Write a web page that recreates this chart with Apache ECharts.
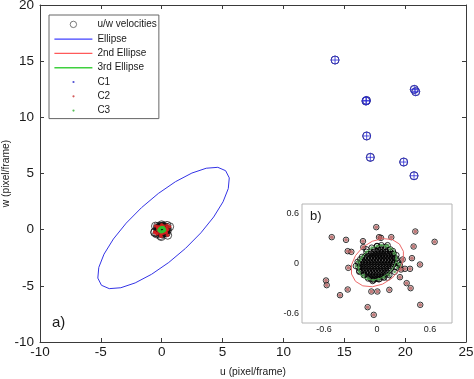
<!DOCTYPE html>
<html>
<head>
<meta charset="utf-8">
<script src="https://cdn.jsdelivr.net/npm/echarts@6/dist/echarts.min.js"></script>
<style>html,body{margin:0;padding:0;background:#fff}#c{width:474px;height:379px}</style>
</head>
<body>
<div id="c"></div>
<script>
// ---------- data ----------
const xTicks = [-10, -5, 0, 5, 10, 15, 20, 25];
const yTicks = [-10, -5, 0, 5, 10, 15, 20];
const insetTicks = [-0.6, 0, 0.6];

// C1: far velocities (u, w)
const c1Points = [[14.24,15.10],[16.78,11.45],[16.82,11.50],[20.75,12.49],[20.87,12.28],[16.84,8.34],[17.14,6.44],[19.88,6.02],[20.73,4.80]];

// C2 points (u, w)
const c2Points = [[-0.513,0.316],[-0.351,0.284],[-0.008,0.436],[0.023,0.316],[0.045,0.308],[0.162,0.316],[0.434,0.384],[0.653,0.26],
  [-0.159,0.268],[-0.155,0.196],[-0.332,0.148],[-0.291,0.14],[0.415,0.204],[0.396,0.064],[0.487,-0.012],[-0.325,-0.052],
  [0.272,-0.072],[0.317,-0.064],[0.374,-0.064],[0.26,-0.164],[-0.578,-0.204],[-0.57,-0.26],[-0.332,-0.312],[-0.419,-0.38],
  [-0.064,-0.336],[0.004,-0.336],[0.14,-0.316],[0.336,-0.236],[0.381,-0.296],[0.49,-0.496],[-0.106,-0.524],[-0.037,-0.616],[0.291,0.048]];

// C3 points (u, w)
const c3Points = [[-0.22,0.02],[-0.21,-0.05],[-0.20,-0.10],[-0.17,0.08],[-0.12,0.14],[-0.06,0.19],[0.00,0.21],[0.05,0.22],
  [0.10,0.20],[0.15,0.17],[0.19,0.12],[0.22,0.06],[0.24,0.00],[0.23,-0.05],[0.20,-0.10],[0.14,-0.14],[0.08,-0.17],
  [0.02,-0.19],[-0.04,-0.20],[-0.10,-0.18],[-0.15,-0.14],[-0.19,0.05],[0.26,-0.02],[-0.24,-0.03],[0.12,0.22]];

// remaining velocities of the dense core, by row: [w, [u...]]
const coreRows = [
  [0.19,[0.03,0.07]],
  [0.165,[-0.03,0.01,0.05,0.09,0.13]],
  [0.14,[-0.07,-0.035,0.0,0.035,0.07,0.105,0.15]],
  [0.115,[-0.10,-0.065,-0.03,0.005,0.04,0.075,0.11,0.145,0.175]],
  [0.09,[-0.13,-0.095,-0.06,-0.025,0.01,0.045,0.08,0.115,0.15,0.185]],
  [0.065,[-0.15,-0.115,-0.08,-0.045,-0.01,0.025,0.06,0.095,0.13,0.165,0.2]],
  [0.04,[-0.165,-0.13,-0.095,-0.06,-0.025,0.01,0.045,0.08,0.115,0.15,0.185]],
  [0.015,[-0.18,-0.145,-0.11,-0.075,-0.04,-0.005,0.03,0.065,0.1,0.135,0.17,0.2]],
  [-0.01,[-0.185,-0.15,-0.115,-0.08,-0.045,-0.01,0.025,0.06,0.095,0.13,0.165,0.19]],
  [-0.035,[-0.19,-0.155,-0.12,-0.085,-0.05,-0.015,0.02,0.055,0.09,0.125,0.16]],
  [-0.06,[-0.185,-0.15,-0.115,-0.08,-0.045,-0.01,0.025,0.06,0.095,0.13,0.16]],
  [-0.085,[-0.175,-0.14,-0.105,-0.07,-0.035,0.0,0.035,0.07,0.105,0.14]],
  [-0.11,[-0.16,-0.125,-0.09,-0.055,-0.02,0.015,0.05,0.085,0.115]],
  [-0.135,[-0.14,-0.105,-0.07,-0.035,0.0,0.035,0.07,0.1]],
  [-0.16,[-0.11,-0.075,-0.04,-0.005,0.03,0.065]],
  [-0.185,[-0.07,-0.035,0.0,0.03]]
];
const coreExtra = [[0.22,0.10],[-0.21,0.0],[0.21,-0.04],[-0.12,0.17],[0.12,-0.17],[-0.2,-0.09],[0.18,0.15],[0.0,0.21],[-0.05,-0.21],[0.23,0.03]];

// ellipse outlines (u, w)
const ellipse1 = [[5.25,5.25],[4.61,5.55],[3.66,5.47],[2.48,5.04],[1.13,4.27],[-0.28,3.22],[-1.66,1.96],[-2.92,0.58],
  [-3.97,-0.83],[-4.74,-2.18],[-5.17,-3.36],[-5.25,-4.31],[-4.95,-4.95],[-4.31,-5.25],[-3.36,-5.17],[-2.18,-4.74],
  [-0.83,-3.97],[0.58,-2.92],[1.96,-1.66],[3.22,-0.28],[4.27,1.13],[5.04,2.48],[5.47,3.66],[5.55,4.61]];
const ellipse2 = [[0.254,0.234],[0.171,0.288],[0.063,0.299],[-0.054,0.267],[-0.162,0.195],[-0.244,0.095],[-0.289,-0.017],[-0.289,-0.126],
  [-0.244,-0.214],[-0.161,-0.268],[-0.053,-0.279],[0.064,-0.247],[0.172,-0.175],[0.254,-0.075],[0.299,0.037],[0.299,0.146]];
const ellipse3 = [[0.184,0.171],[0.125,0.210],[0.047,0.218],[-0.037,0.195],[-0.115,0.143],[-0.174,0.071],[-0.207,-0.009],[-0.207,-0.088],
  [-0.174,-0.151],[-0.115,-0.190],[-0.037,-0.198],[0.047,-0.175],[0.125,-0.123],[0.184,-0.051],[0.217,0.029],[0.217,0.108]];

// ---------- build ----------
const corePoints = [];
coreRows.forEach(r => r[1].forEach(u => corePoints.push([u, r[0]])));
coreExtra.forEach(p => corePoints.push(p));
const allUW = corePoints.concat(c3Points, c2Points, c1Points);
const close = a => a.concat([a[0]]);

const FONT = 'Liberation Sans, Arial, sans-serif';
const AX = '#3a3a3a';
const TXT = '#1a1a1a';
const BLUE = '#3434e6', RED = '#ee4848', GREEN = '#36c336';
const DOT = 'path://M0 0M38 10M18 5A1.1 1.1 0 1 1 20.2 5A1.1 1.1 0 1 1 18 5Z';
const RING = 'path://M0 0M38 10M15.8 5A3.2 3.2 0 1 1 22.2 5A3.2 3.2 0 1 1 15.8 5Z';
const LINE = 'path://M0 0M38 10M0 4.3H38V5.7H0Z';
const CPLUS = 'path://M0 5A5 5 0 1 1 10 5A5 5 0 1 1 0 5ZM5 0L5 10M0 5L10 5';
const lineItem = (name, c) => ({ name: name, icon: LINE,
  itemStyle: { color: c, borderColor: c, borderWidth: 0, opacity: 1 },
  lineStyle: { color: c, width: 1, opacity: 1 } });

function mainX(pos, show) {
  return { gridIndex: 0, type: 'value', min: -10, max: 25, interval: 5, position: pos,
    axisLine: { show: true, onZero: false, lineStyle: { color: AX, width: 1 } },
    axisTick: { show: true, inside: true, length: 4, lineStyle: { color: AX } },
    axisLabel: { show: show, fontSize: 13.5, color: TXT, margin: 3, fontFamily: FONT },
    splitLine: { show: false } };
}
function mainY(pos, show) {
  return { gridIndex: 0, type: 'value', min: -10, max: 20, interval: 5, position: pos,
    axisLine: { show: true, onZero: false, lineStyle: { color: AX, width: 1 } },
    axisTick: { show: true, inside: true, length: 4, lineStyle: { color: AX } },
    axisLabel: { show: show, fontSize: 13.5, color: TXT, margin: 6, fontFamily: FONT },
    splitLine: { show: false } };
}
const xa0 = mainX('bottom', true);
xa0.name = 'u (pixel/frame)'; xa0.nameLocation = 'middle'; xa0.nameGap = 25; xa0.nameMoveOverlap = false;
xa0.nameTextStyle = { fontSize: 10.3, color: TXT, fontFamily: FONT };
const ya0 = mainY('left', true);
ya0.name = 'w (pixel/frame)'; ya0.nameLocation = 'middle'; ya0.nameGap = 29; ya0.nameMoveOverlap = false;
ya0.nameTextStyle = { fontSize: 10.3, color: TXT, fontFamily: FONT };

const insetAxis = (isX) => ({ gridIndex: 1, type: 'value', min: isX ? -0.85 : -0.714, max: isX ? 0.85 : 0.714,
  position: isX ? 'bottom' : 'left',
  axisLine: { show: false },
  axisTick: { show: true, inside: true, length: 2, customValues: insetTicks, lineStyle: { color: '#aaa' } },
  axisLabel: { show: true, customValues: insetTicks, fontSize: 9, color: TXT, margin: isX ? 2 : 3, fontFamily: FONT },
  splitLine: { show: false } });

const chart = echarts.init(document.getElementById('c'), null, { renderer: 'canvas' });
chart.setOption({
  animation: false,
  backgroundColor: '#fff',
  textStyle: { fontFamily: FONT },
  grid: [
    { left: 40, right: 8, top: 5, bottom: 37, show: false, containLabel: false, outerBoundsMode: 'none' },
    { left: 302, top: 204, width: 150, height: 119, show: true, backgroundColor: '#fff', borderColor: '#b4b4b4', borderWidth: 1, z: 5,
      containLabel: false, outerBoundsMode: 'none' }
  ],
  xAxis: [xa0, mainX('top', false), insetAxis(true)],
  yAxis: [ya0, mainY('right', false), insetAxis(false)],
  legend: {
    orient: 'vertical', left: 49, top: 15, selectedMode: false,
    itemWidth: 38, itemHeight: 10, itemGap: 4.3,
    padding: [4, 2, 3, 5],
    backgroundColor: '#fff', borderColor: '#666', borderWidth: 1,
    textStyle: { fontSize: 10, color: TXT, fontFamily: FONT },
    data: [
      { name: 'u/w velocities', icon: RING, itemStyle: { color: 'transparent', borderColor: '#333', borderWidth: 0.8 } },
      lineItem('Ellipse', '#4040ff'),
      lineItem('2nd Ellipse', '#ff5a5a'),
      lineItem('3rd Ellipse', '#3fd03f'),
      { name: 'C1', icon: DOT, itemStyle: { color: '#2222c8', borderWidth: 0 } },
      { name: 'C2', icon: DOT, itemStyle: { color: '#c83030', borderWidth: 0 } },
      { name: 'C3', icon: DOT, itemStyle: { color: '#30b030', borderWidth: 0 } }
    ]
  },
  graphic: [
    { type: 'text', left: 52, top: 315, z: 10, style: { text: 'a)', fontSize: 15, fill: TXT, fontFamily: FONT } },
    { type: 'text', left: 310, top: 210, z: 10, style: { text: 'b)', fontSize: 13, fill: TXT, fontFamily: FONT } }
  ],
  series: [
    { name: 'u/w velocities', type: 'scatter', xAxisIndex: 0, yAxisIndex: 0, data: allUW, symbol: 'circle', symbolSize: 8,
      itemStyle: { color: 'transparent', borderColor: '#111', borderWidth: 0.9 }, z: 2 },
    { name: 'Ellipse', type: 'line', xAxisIndex: 0, yAxisIndex: 0, data: close(ellipse1), symbol: 'none', color: BLUE,
      itemStyle: { color: BLUE }, lineStyle: { color: BLUE, width: 1 }, z: 3 },
    { name: '2nd Ellipse', type: 'line', xAxisIndex: 0, yAxisIndex: 0, data: close(ellipse2), symbol: 'none', color: RED,
      itemStyle: { color: RED }, lineStyle: { color: RED, width: 1 }, z: 3 },
    { name: '3rd Ellipse', type: 'line', xAxisIndex: 0, yAxisIndex: 0, data: close(ellipse3), symbol: 'none', color: GREEN,
      itemStyle: { color: GREEN }, lineStyle: { color: GREEN, width: 1 }, z: 3 },
    { name: 'C1', type: 'scatter', xAxisIndex: 0, yAxisIndex: 0, data: c1Points, symbol: CPLUS, symbolSize: 8,
      itemStyle: { color: 'transparent', borderColor: '#2a2ad6', borderWidth: 1 }, z: 4 },
    { name: 'C2', type: 'scatter', xAxisIndex: 0, yAxisIndex: 0, data: c2Points, symbol: 'circle', symbolSize: 3.5,
      itemStyle: { color: '#dd2020' }, z: 4 },
    { name: 'C3', type: 'scatter', xAxisIndex: 0, yAxisIndex: 0, data: c3Points, symbol: 'circle', symbolSize: 3,
      itemStyle: { color: '#2fc02f' }, z: 4 },

    { name: 'u/w velocities', type: 'scatter', xAxisIndex: 2, yAxisIndex: 2, data: allUW, symbol: 'circle', symbolSize: 5.5,
      itemStyle: { color: 'transparent', borderColor: '#000', borderWidth: 1 }, z: 6 },
    { name: '2nd Ellipse', type: 'line', xAxisIndex: 2, yAxisIndex: 2, data: close(ellipse2), symbol: 'none', color: RED,
      itemStyle: { color: RED }, lineStyle: { color: '#ec6a6a', width: 1 }, z: 7 },
    { name: '3rd Ellipse', type: 'line', xAxisIndex: 2, yAxisIndex: 2, data: close(ellipse3), symbol: 'none', color: GREEN,
      itemStyle: { color: GREEN }, lineStyle: { color: '#5ac85a', width: 0.8 }, z: 7 },
    { name: 'C2', type: 'scatter', xAxisIndex: 2, yAxisIndex: 2, data: c2Points, symbol: 'circle', symbolSize: 3.8,
      itemStyle: { color: '#b05858' }, z: 8 },
    { name: 'C3', type: 'scatter', xAxisIndex: 2, yAxisIndex: 2, data: c3Points, symbol: 'circle', symbolSize: 2.8,
      itemStyle: { color: '#4a9a4a' }, z: 8 }
  ]
});
</script>
</body>
</html>
